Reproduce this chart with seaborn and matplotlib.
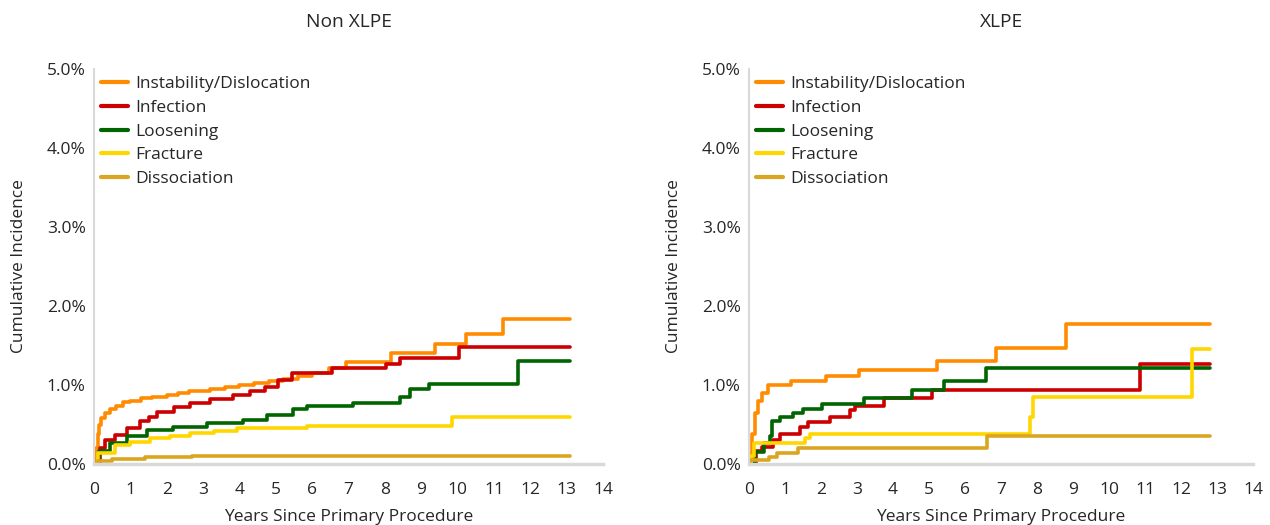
import matplotlib
matplotlib.use("Agg")
import matplotlib.pyplot as plt
import pandas as pd
import seaborn as sns
from matplotlib.ticker import FuncFormatter

sns.set_theme(style="white")
plt.rcParams['font.family'] = ['Open Sans', 'DejaVu Sans']

causes = ['Instability/Dislocation', 'Infection', 'Loosening', 'Fracture', 'Dissociation']
colors = ['#FF8C00', '#CC0000', '#006400', '#FFD700', '#DAA520']

# Non XLPE (years, cumulative incidence %)
non_inst_x = [0, 0.05, 0.1, 0.15, 0.2, 0.3, 0.45, 0.6, 0.8, 1.0, 1.3, 1.6, 2.0, 2.3, 2.6, 3.2, 3.6, 4.0, 4.4, 4.8, 5.2, 5.6, 6.0, 6.45, 6.93, 8.17, 9.38, 10.23, 11.26, 13.1]
non_inst_y = [0, 0.2, 0.38, 0.5, 0.58, 0.65, 0.7, 0.74, 0.78, 0.8, 0.83, 0.85, 0.87, 0.9, 0.93, 0.95, 0.97, 1.0, 1.02, 1.05, 1.08, 1.11, 1.15, 1.22, 1.29, 1.41, 1.52, 1.65, 1.84, 1.84]
non_inf_x = [0, 0.16, 0.3, 0.58, 0.9, 1.27, 1.5, 1.72, 2.2, 2.64, 3.2, 3.83, 4.3, 4.7, 5.06, 5.45, 6.54, 8.03, 8.42, 10.05, 13.1]
non_inf_y = [0, 0.2, 0.3, 0.37, 0.45, 0.54, 0.6, 0.66, 0.72, 0.77, 0.82, 0.87, 0.92, 0.97, 1.06, 1.15, 1.22, 1.27, 1.34, 1.48, 1.48]
non_loo_x = [0, 0.15, 0.44, 0.9, 1.45, 2.18, 3.1, 4.1, 4.75, 5.48, 5.85, 7.13, 8.42, 8.69, 9.22, 11.67, 13.1]
non_loo_y = [0, 0.16, 0.26, 0.35, 0.43, 0.47, 0.52, 0.56, 0.62, 0.70, 0.73, 0.77, 0.85, 0.95, 1.01, 1.30, 1.30]
non_fra_x = [0, 0.1, 0.58, 1.0, 1.55, 2.1, 2.64, 3.3, 3.92, 5.85, 9.84, 13.1]
non_fra_y = [0, 0.14, 0.24, 0.28, 0.33, 0.36, 0.39, 0.42, 0.45, 0.485, 0.59, 0.59]
non_dis_x = [0, 0.1, 0.5, 1.4, 2.69, 13.1]
non_dis_y = [0, 0.04, 0.06, 0.09, 0.105, 0.105]

# XLPE
x_inst_x = [0, 0.08, 0.17, 0.25, 0.35, 0.54, 1.16, 2.14, 3.06, 5.23, 6.86, 8.81, 12.8]
x_inst_y = [0, 0.38, 0.64, 0.8, 0.9, 1.0, 1.05, 1.12, 1.19, 1.30, 1.47, 1.77, 1.77]
x_inf_x = [0, 0.2, 0.37, 0.68, 0.86, 1.42, 1.65, 2.25, 2.8, 2.94, 3.75, 5.07, 10.86, 12.8]
x_inf_y = [0, 0.16, 0.22, 0.31, 0.375, 0.47, 0.535, 0.6, 0.68, 0.73, 0.83, 0.94, 1.26, 1.26]
x_loo_x = [0, 0.17, 0.42, 0.58, 0.65, 0.86, 1.21, 1.51, 2.02, 3.19, 4.52, 5.42, 6.58, 12.8]
x_loo_y = [0, 0.15, 0.26, 0.35, 0.54, 0.6, 0.65, 0.70, 0.76, 0.84, 0.94, 1.05, 1.21, 1.21]
x_fra_x = [0, 0.05, 0.14, 1.56, 1.69, 7.8, 7.88, 12.3, 12.8]
x_fra_y = [0, 0.1, 0.27, 0.325, 0.38, 0.6, 0.85, 1.46, 1.46]
x_dis_x = [0, 0.03, 0.55, 0.77, 1.37, 6.6, 12.8]
x_dis_y = [0, 0.05, 0.09, 0.14, 0.2, 0.355, 0.355]


def build(series):
    frames = []
    for cause, (xs, ys) in zip(causes, series):
        frames.append(pd.DataFrame({'years': xs, 'ci': [v / 100 for v in ys], 'cause': cause}))
    return pd.concat(frames, ignore_index=True)


non_df = build([(non_inst_x, non_inst_y), (non_inf_x, non_inf_y), (non_loo_x, non_loo_y),
                (non_fra_x, non_fra_y), (non_dis_x, non_dis_y)])
xl_df = build([(x_inst_x, x_inst_y), (x_inf_x, x_inf_y), (x_loo_x, x_loo_y),
               (x_fra_x, x_fra_y), (x_dis_x, x_dis_y)])

fig = plt.figure(figsize=(12.7, 5.25), dpi=100)
ax1 = fig.add_axes([94 / 1270, 61 / 525, 509 / 1270, 395 / 525])
ax2 = fig.add_axes([749 / 1270, 61 / 525, 504 / 1270, 395 / 525])

for ax, df, title in [(ax1, non_df, 'Non XLPE'), (ax2, xl_df, 'XLPE')]:
    sns.lineplot(data=df, x='years', y='ci', hue='cause', hue_order=causes, palette=colors,
                 drawstyle='steps-post', estimator=None, linewidth=2.6, ax=ax)
    ax.set_xlim(0, 14)
    ax.set_ylim(0, 0.05)
    ax.set_xticks(range(0, 15))
    ax.set_yticks([0, 0.01, 0.02, 0.03, 0.04, 0.05])
    ax.yaxis.set_major_formatter(FuncFormatter(lambda v, p: f'{v * 100:.1f}%'))
    ax.tick_params(axis='both', labelsize=12.5, colors='#d9d9d9', labelcolor='#262626', length=3, width=1)
    ax.tick_params(axis='x', pad=10)
    ax.tick_params(axis='y', pad=3)
    for s in ['top', 'right']:
        ax.spines[s].set_visible(False)
    ax.spines['left'].set_color('#d9d9d9')
    ax.spines['left'].set_linewidth(1.5)
    ax.spines['bottom'].set_color('#d9d9d9')
    ax.spines['bottom'].set_linewidth(2.5)
    ax.set_xlabel('Years Since Primary Procedure', fontsize=12.5, color='#262626', labelpad=8)
    ax.set_ylabel('Cumulative Incidence', fontsize=12.5, color='#262626', labelpad=14)
    ax.set_title(title, fontsize=13.8, color='#262626', pad=30)
    leg = ax.legend(loc='upper left', frameon=False, fontsize=12.5, handlelength=1.55,
                    handletextpad=0.4, labelspacing=0.44, borderaxespad=0.0,
                    bbox_to_anchor=(0.0, 1.0))
    for line in leg.get_lines():
        line.set_linewidth(3)
    ax.margins(0)

fig.savefig('out.png', dpi=100)
